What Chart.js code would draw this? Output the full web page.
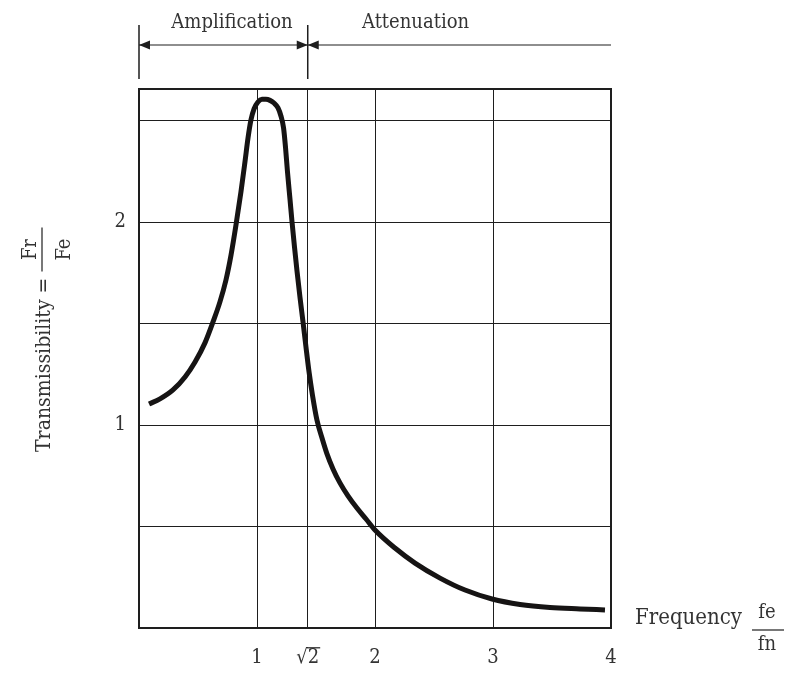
<!DOCTYPE html>
<html><head><meta charset="utf-8">
<script src="https://cdn.jsdelivr.net/npm/chart.js@4"></script>
<style>html,body{margin:0;padding:0;background:#fff;}</style>
</head><body>
<canvas id="c" width="785" height="674"></canvas>
<script>
// ---- data ----
const frequencyRatio = [0.085,0.178,0.288,0.390,0.475,0.559,0.627,0.686,0.737,0.780,0.822,0.864,0.898,0.924,0.949,0.975,1.008,1.042,1.076,1.110,1.144,1.178,1.203,1.225,1.242,1.258,1.280,1.297,1.318,1.339,1.364,1.390,1.415,1.441,1.470,1.508,1.551,1.593,1.644,1.703,1.771,1.847,1.924,2.000,2.169,2.339,2.551,2.763,2.992,3.229,3.483,3.737,3.949];
const transmissibility = [1.104,1.129,1.173,1.237,1.311,1.405,1.508,1.607,1.715,1.838,1.986,2.149,2.297,2.415,2.504,2.558,2.592,2.605,2.605,2.600,2.587,2.563,2.523,2.464,2.366,2.250,2.110,2.000,1.876,1.759,1.631,1.508,1.385,1.262,1.148,1.025,0.936,0.858,0.784,0.715,0.651,0.591,0.537,0.483,0.394,0.320,0.246,0.187,0.143,0.116,0.101,0.094,0.089];
const xTickValues = [1, 1.43, 2, 3, 4];
const xTickLabels = ['1', '\u221A2', '2', '3', '4'];
const yGridValues = [0.5, 1, 1.5, 2, 2.5];
const yTickLabels = ['', '1', '', '2', ''];
const regionLabels = ['Amplification', 'Attenuation'];
const yTitleText = 'Transmissibility =';
const yTitleNum = 'Fr', yTitleDen = 'Fe';
const xTitleText = 'Frequency';
const xTitleNum = 'fe', xTitleDen = 'fn';

const FONT = "'DejaVu Serif Condensed', 'DejaVu Serif', serif";
const INK = '#1e1e1e';
const TEXT = '#333';

const points = frequencyRatio.map((x, i) => ({x, y: transmissibility[i]}));

const decor = {
  id: 'decor',
  afterDraw(chart) {
    const ctx = chart.ctx, a = chart.chartArea;
    const xs = chart.scales.x;
    ctx.save();
    // frame
    ctx.strokeStyle = INK; ctx.lineWidth = 2;
    ctx.strokeRect(a.left, a.top, a.right - a.left, a.bottom - a.top);

    // top annotation
    const L = a.left, S = xs.getPixelForValue(xTickValues[1]), R = a.right;
    ctx.lineWidth = 1.5;
    ctx.beginPath();
    ctx.moveTo(L, 25); ctx.lineTo(L, 79);
    ctx.moveTo(S, 25); ctx.lineTo(S, 79);
    ctx.stroke();
    ctx.lineWidth = 1.2;
    ctx.beginPath(); ctx.moveTo(L, 45); ctx.lineTo(R, 45); ctx.stroke();
    ctx.fillStyle = INK;
    const arrow = (tip, dir) => {
      ctx.beginPath();
      ctx.moveTo(tip, 45);
      ctx.lineTo(tip + dir * 11, 40.5);
      ctx.lineTo(tip + dir * 11, 49.5);
      ctx.closePath(); ctx.fill();
    };
    arrow(L, 1); arrow(S, -1); arrow(S, 1);
    ctx.fillStyle = TEXT;
    ctx.font = '20px ' + FONT;
    ctx.textBaseline = 'alphabetic';
    ctx.textAlign = 'center';
    ctx.fillText(regionLabels[0], 232, 28);
    ctx.textAlign = 'left';
    ctx.fillText(regionLabels[1], 362, 28);

    // y title (rotated)
    ctx.save();
    ctx.font = '21px ' + FONT;
    ctx.translate(50, 452);
    ctx.rotate(-Math.PI / 2);
    ctx.textAlign = 'left';
    ctx.fillText(yTitleText, 0, 0);
    const w = ctx.measureText(yTitleText).width;
    const u0 = w + 6, u1 = u0 + 44;
    ctx.strokeStyle = INK; ctx.lineWidth = 1.2;
    ctx.beginPath(); ctx.moveTo(u0, -8); ctx.lineTo(u1, -8); ctx.stroke();
    ctx.textAlign = 'center';
    ctx.font = '20px ' + FONT;
    ctx.fillText(yTitleNum, (u0 + u1) / 2, -14);
    ctx.fillText(yTitleDen, (u0 + u1) / 2, 20);
    ctx.restore();

    // x title
    ctx.textAlign = 'left';
    ctx.font = '22px ' + FONT;
    ctx.fillText(xTitleText, 635, 624);
    ctx.strokeStyle = INK; ctx.lineWidth = 1.2;
    ctx.beginPath(); ctx.moveTo(752, 630); ctx.lineTo(784, 630); ctx.stroke();
    ctx.textAlign = 'center';
    ctx.font = '20px ' + FONT;
    ctx.fillText(xTitleNum, 767, 618);
    ctx.fillText(xTitleDen, 767, 650);

    // vinculum over the "2" of the √2 tick label
    const tf = xs.options.ticks.font;
    ctx.font = tf.size + 'px ' + FONT;
    ctx.textBaseline = 'middle';
    const lab = xTickLabels[1];
    const lw = ctx.measureText(lab).width;
    const rw = ctx.measureText('\u221A').width;
    const cy = a.bottom + xs.options.ticks.padding + tf.size * 1.2 / 2;
    const asc = ctx.measureText('\u221A').actualBoundingBoxAscent;
    const cx = S - lw / 2;
    ctx.lineWidth = 1.2;
    ctx.beginPath();
    ctx.moveTo(cx + rw - 1, cy - asc + 0.6);
    ctx.lineTo(cx + lw + 1, cy - asc + 0.6);
    ctx.stroke();
    ctx.restore();
  }
};

new Chart(document.getElementById('c'), {
  type: 'line',
  data: {
    datasets: [{
      data: points,
      borderColor: '#161414',
      borderWidth: 5,
      pointRadius: 0,
      fill: false,
      cubicInterpolationMode: 'monotone',
      borderCapStyle: 'butt'
    }]
  },
  options: {
    responsive: false,
    animation: false,
    devicePixelRatio: 1,
    layout: {padding: {top: 89, right: 174, bottom: 0, left: 0}},
    plugins: {legend: {display: false}, tooltip: {enabled: false}},
    scales: {
      x: {
        type: 'linear', min: 0, max: 4,
        afterFit(s) { s.height = 46; },
        afterBuildTicks(s) { s.ticks = xTickValues.map(v => ({value: v})); },
        grid: {color: INK, lineWidth: 1, drawTicks: false},
        border: {display: true, color: INK, width: 2},
        ticks: {padding: 18, font: {family: FONT, size: 20}, color: TEXT, autoSkip: false, maxRotation: 0,
          callback: (v, i) => xTickLabels[i]}
      },
      y: {
        type: 'linear', min: 0, max: 2.656,
        afterFit(s) { s.width = 139; },
        afterBuildTicks(s) { s.ticks = yGridValues.map(v => ({value: v})); },
        grid: {color: INK, lineWidth: 1, drawTicks: false},
        border: {display: true, color: INK, width: 2},
        ticks: {padding: 13, font: {family: FONT, size: 20}, color: TEXT, autoSkip: false,
          callback: (v, i) => yTickLabels[i]}
      }
    }
  },
  plugins: [decor]
});
</script>
</body></html>
